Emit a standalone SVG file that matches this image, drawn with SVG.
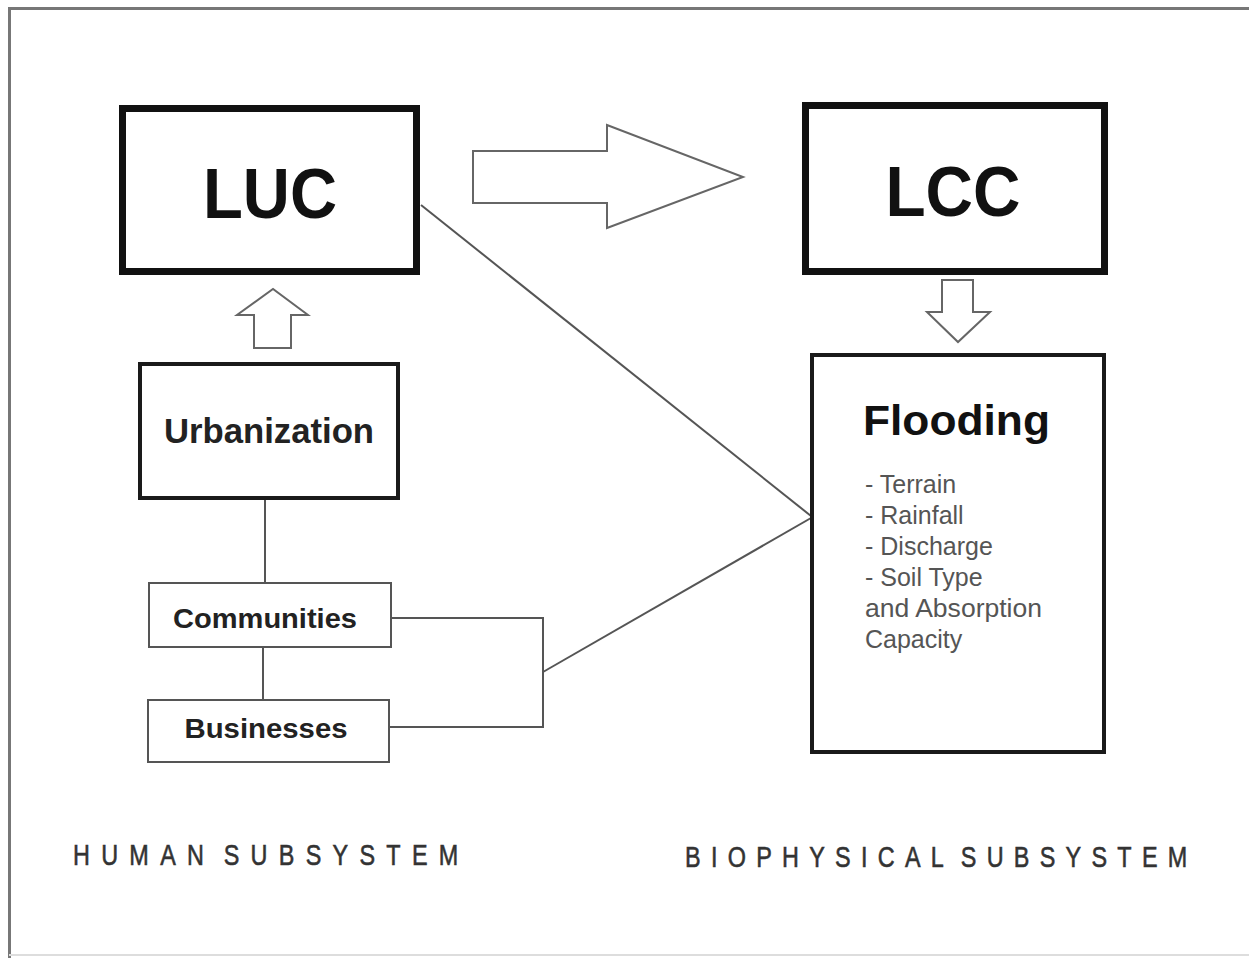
<svg xmlns="http://www.w3.org/2000/svg" width="1249" height="958" viewBox="0 0 1249 958">
<style>
.thick{fill:#fff;stroke:#111;stroke-width:7}
.mid{fill:#fff;stroke:#1a1a1a;stroke-width:4}
.thin{fill:#fff;stroke:#555;stroke-width:2}
.arrow{fill:#fff;stroke:#666;stroke-width:2;stroke-linejoin:miter}
.conn{fill:none;stroke:#555;stroke-width:2}
.big{font-family:"Liberation Sans",Arial,sans-serif;font-weight:bold;fill:#111;text-anchor:middle}
.lbl{font-family:"Liberation Sans",Arial,sans-serif;font-weight:bold;fill:#222;text-anchor:middle}
.item{font-family:"Liberation Sans",Arial,sans-serif;font-size:25px;fill:#555}
.sub{font-family:"Liberation Sans",Arial,sans-serif;font-size:30px;fill:#333;stroke:#333;stroke-width:0.6}
</style>
<rect width="1249" height="958" fill="#fff"/>
<path d="M9.5,958 V8.5 H1249" fill="none" stroke="#777" stroke-width="3"/>
<line x1="9" y1="955" x2="1249" y2="955" stroke="#ddd" stroke-width="2"/>

<g id="connectors">
<line class="conn" x1="421" y1="205" x2="811" y2="516"/>
<line class="conn" x1="543" y1="672" x2="811" y2="518"/>
<line class="conn" x1="265" y1="500" x2="265" y2="583"/>
<line class="conn" x1="263" y1="647" x2="263" y2="700"/>
<polyline class="conn" points="391,618 543,618 543,727 389,727"/>
<polygon id="arrow-luc-lcc" class="arrow" points="473,151 607,151 607,125 743,177 607,228 607,203 473,203"/>
<polygon id="arrow-urb-luc" class="arrow" points="254,348 254,315 237,315 273,289 308,315 291,315 291,348"/>
<polygon id="arrow-lcc-flood" class="arrow" points="942,280 973,280 973,312 990,312 958,342 927,312 942,312"/>
</g>

<g id="luc">
<rect class="thick" x="122.5" y="108.5" width="294" height="163"/>
<text class="big" x="270" y="218" font-size="70" textLength="134" lengthAdjust="spacingAndGlyphs">LUC</text>
</g>

<g id="lcc">
<rect class="thick" x="805.5" y="105.5" width="299" height="166"/>
<text class="big" x="953" y="216" font-size="70" textLength="135" lengthAdjust="spacingAndGlyphs">LCC</text>
</g>

<g id="urbanization">
<rect class="mid" x="140" y="364" width="258" height="134"/>
<text class="lbl" x="269" y="443" font-size="35" textLength="210" lengthAdjust="spacingAndGlyphs">Urbanization</text>
</g>

<g id="communities">
<rect class="thin" x="149" y="583" width="242" height="64"/>
<text class="lbl" x="265" y="628" font-size="28" textLength="184" lengthAdjust="spacingAndGlyphs">Communities</text>
</g>

<g id="businesses">
<rect class="thin" x="148" y="700" width="241" height="62"/>
<text class="lbl" x="266" y="738" font-size="28" textLength="163" lengthAdjust="spacingAndGlyphs">Businesses</text>
</g>

<g id="flooding">
<rect class="mid" x="812" y="355" width="292" height="397"/>
<text x="863" y="435" font-family="Liberation Sans,Arial,sans-serif" font-weight="bold" font-size="42" fill="#111" textLength="187" lengthAdjust="spacingAndGlyphs">Flooding</text>
<text class="item" x="865" y="493">- Terrain</text>
<text class="item" x="865" y="524">- Rainfall</text>
<text class="item" x="865" y="555">- Discharge</text>
<text class="item" x="865" y="586">- Soil Type</text>
<text class="item" x="865" y="617" textLength="177" lengthAdjust="spacingAndGlyphs">and Absorption</text>
<text class="item" x="865" y="648">Capacity</text>
</g>

<g id="labels">
<text class="sub" transform="translate(73,865) scale(0.78,1)" textLength="494" lengthAdjust="spacing" word-spacing="-12">HUMAN SUBSYSTEM</text>
<text class="sub" transform="translate(685,867) scale(0.78,1)" textLength="644" lengthAdjust="spacing" word-spacing="-12">BIOPHYSICAL SUBSYSTEM</text>
</g>
</svg>
